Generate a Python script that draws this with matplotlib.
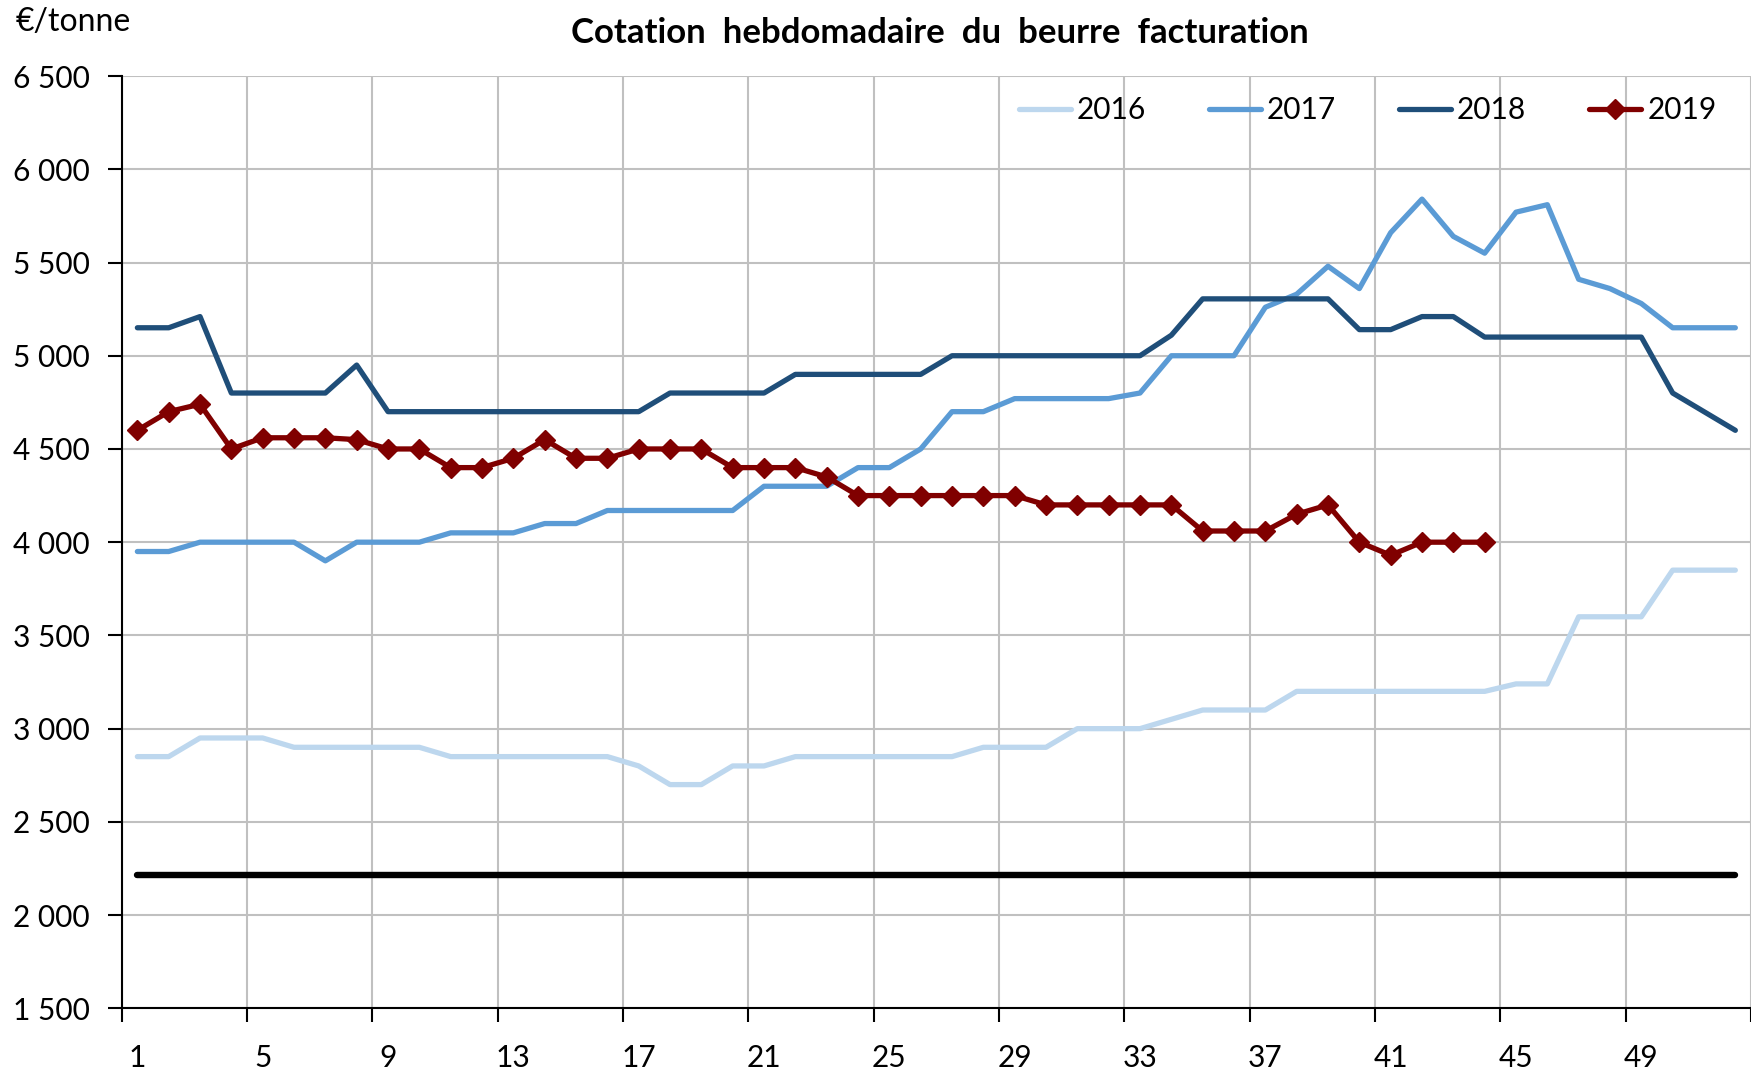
import numpy as np
import matplotlib
matplotlib.use("Agg")
import matplotlib.pyplot as plt
from matplotlib.ticker import FuncFormatter

plt.rcParams['font.family'] = ['Lato', 'DejaVu Sans']

weeks = np.arange(1, 53)
v2016 = [2850, 2850, 2950, 2950, 2950, 2900, 2900, 2900, 2900, 2900,
         2850, 2850, 2850, 2850, 2850, 2850, 2800, 2700, 2700, 2800,
         2800, 2850, 2850, 2850, 2850, 2850, 2850, 2900, 2900, 2900,
         3000, 3000, 3000, 3050, 3100, 3100, 3100, 3200, 3200, 3200,
         3200, 3200, 3200, 3200, 3240, 3240, 3600, 3600, 3600, 3850,
         3850, 3850]
v2017 = [3950, 3950, 4000, 4000, 4000, 4000, 3900, 4000, 4000, 4000,
         4050, 4050, 4050, 4100, 4100, 4170, 4170, 4170, 4170, 4170,
         4300, 4300, 4300, 4400, 4400, 4500, 4700, 4700, 4770, 4770,
         4770, 4770, 4800, 5000, 5000, 5000, 5260, 5330, 5480, 5360,
         5660, 5840, 5640, 5550, 5770, 5810, 5410, 5360, 5280, 5150,
         5150, 5150]
v2018 = [5150, 5150, 5210, 4800, 4800, 4800, 4800, 4950, 4700, 4700,
         4700, 4700, 4700, 4700, 4700, 4700, 4700, 4800, 4800, 4800,
         4800, 4900, 4900, 4900, 4900, 4900, 5000, 5000, 5000, 5000,
         5000, 5000, 5000, 5110, 5305, 5305, 5305, 5305, 5305, 5140,
         5140, 5210, 5210, 5100, 5100, 5100, 5100, 5100, 5100, 4800,
         4700, 4600]
v2019 = [4600, 4700, 4740, 4500, 4560, 4560, 4560, 4550, 4500, 4500,
         4400, 4400, 4450, 4550, 4450, 4450, 4500, 4500, 4500, 4400,
         4400, 4400, 4350, 4250, 4250, 4250, 4250, 4250, 4250, 4200,
         4200, 4200, 4200, 4200, 4060, 4060, 4060, 4150, 4200, 4000,
         3930, 4000, 4000, 4000]
seuil = 2217.5

fig = plt.figure(figsize=(17.51, 10.71), dpi=100)
ax = fig.add_axes([0.0695, 0.0585, 0.9305, 0.8705])

ax.plot(weeks, v2016, color='#BDD7EE', lw=3.8, label='2016', solid_capstyle='round')
ax.plot(weeks, v2017, color='#5B9BD5', lw=3.8, label='2017', solid_capstyle='round')
ax.plot(weeks, v2018, color='#1F4E79', lw=3.8, label='2018', solid_capstyle='round')
ax.plot(weeks[:len(v2019)], v2019, color='#800000', lw=3.8, marker='D', ms=10,
        label='2019', solid_capstyle='round')
ax.plot(weeks, [seuil] * len(weeks), color='black', lw=4.6, solid_capstyle='round')

ax.set_xlim(0.5, 52.26)
ax.set_ylim(1500, 6500)
ax.set_yticks(np.arange(1500, 6501, 500))
ax.yaxis.set_major_formatter(FuncFormatter(lambda v, p: f"{int(v):,}".replace(",", " ")))

ax.set_xticks(np.arange(0.5, 53, 4))
ax.set_xticklabels([])
ax.set_xticks(np.arange(1, 53, 4), minor=True)
ax.set_xticklabels([str(w) for w in range(1, 53, 4)], minor=True)
ax.tick_params(axis='x', which='major', length=10, width=1.5, direction='out')
ax.tick_params(axis='x', which='minor', length=0, pad=26, labelsize=21.5)
ax.tick_params(axis='y', length=10, width=1.5, pad=13, labelsize=21.5)

ax.grid(True, which='major', color='#C0C0C0', lw=1.5)
ax.set_axisbelow(True)
for s in ['top', 'right']:
    ax.spines[s].set_visible(False)
ax.spines['left'].set_linewidth(1.5)
ax.spines['bottom'].set_linewidth(1.5)

fig.text(0.537, 0.969, "Cotation  hebdomadaire  du  beurre  facturation",
         ha='center', va='center', fontsize=25, fontweight='bold')
fig.text(0.009, 0.979, "€/tonne", ha='left', va='center', fontsize=23)

ax.legend(loc='center', bbox_to_anchor=(0.781, 0.897), bbox_transform=fig.transFigure,
          ncol=4, frameon=False, fontsize=21.5, handlelength=1.75, handletextpad=0.2,
          columnspacing=2.1, numpoints=1)

fig.savefig("out.png", dpi=100)
